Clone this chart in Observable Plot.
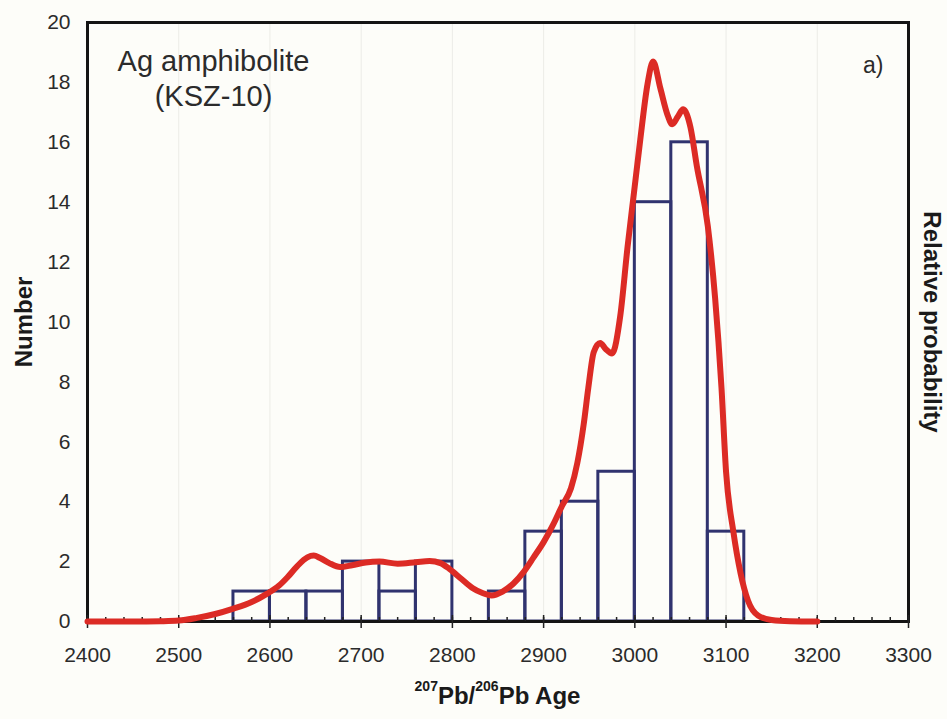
<!DOCTYPE html>
<html>
<head>
<meta charset="utf-8">
<script src="https://cdn.jsdelivr.net/npm/d3@7"></script>
<script src="https://cdn.jsdelivr.net/npm/@observablehq/plot@0.6"></script>
<style>
  html, body { margin: 0; padding: 0; background: #fdfdf9; }
  #chart svg { display: block; }
</style>
</head>
<body>
<div id="chart"></div>
<script>
// Zircon 207Pb/206Pb age histogram, 40 Ma bins
const binStart = [2560, 2600, 2640, 2680, 2720, 2760, 2800, 2840, 2880, 2920, 2960, 3000, 3040, 3080];
const binEnd   = [2600, 2640, 2680, 2720, 2760, 2800, 2840, 2880, 2920, 2960, 3000, 3040, 3080, 3120];
const binCount = [1, 1, 1, 2, 1, 2, 0, 1, 3, 4, 5, 14, 16, 3];

// Relative probability curve, expressed in units of the Number axis
const curveAge = [2400, 2450, 2480, 2500, 2520, 2540, 2560, 2580, 2597, 2610, 2619, 2630, 2641, 2648, 2655, 2665,
  2677, 2690, 2705, 2720, 2740, 2760, 2775, 2787, 2797, 2810, 2822, 2833, 2843, 2855, 2867, 2878,
  2889, 2900, 2911, 2920, 2930, 2937, 2944, 2949, 2955, 2962, 2968, 2975, 2984, 2992, 2999, 3006,
  3014, 3020, 3028, 3036, 3041, 3047, 3053, 3061, 3068, 3080, 3088, 3095, 3100, 3108, 3116, 3124,
  3135, 3150, 3170, 3200];
const curveProb = [0, 0, 0.01, 0.03, 0.12, 0.25, 0.43, 0.65, 0.93, 1.2, 1.47, 1.85, 2.14, 2.2, 2.12, 1.95,
  1.82, 1.88, 1.97, 2.0, 1.93, 1.98, 2.02, 1.95, 1.75, 1.42, 1.12, 0.95, 0.87, 1.0, 1.27, 1.65,
  2.14, 2.65, 3.27, 3.85, 4.45, 5.3, 6.6, 7.8, 9.0, 9.3, 9.1, 8.95, 10.2, 12.5, 14.3, 16.1,
  17.96, 18.7, 17.8, 16.9, 16.6, 16.85, 17.1, 16.5, 15.2, 13.2, 10.8, 7.8, 5.0, 3.0, 1.6, 0.7,
  0.2, 0.05, 0.01, 0];

// Axis ticks
const xTicks = [2400, 2500, 2600, 2700, 2800, 2900, 3000, 3100, 3200, 3300];
const xMinorTicks = d3.range(2400, 3301, 20);
const yTicks = [0, 2, 4, 6, 8, 10, 12, 14, 16, 18, 20];

const bins = binStart
  .map((s, i) => ({start: s, end: binEnd[i], count: binCount[i]}))
  .filter(d => d.count > 0);
const curve = curveAge.map((a, i) => ({age: a, prob: curveProb[i]}));

const font = "'Liberation Sans', Arial, Helvetica, sans-serif";
const ink = "#2b2b2b";

const plot = Plot.plot({
  width: 947,
  height: 719,
  marginLeft: 87,
  marginRight: 39,
  marginTop: 22,
  marginBottom: 98,
  style: {background: "#fdfdf9", fontFamily: font, color: ink, overflow: "visible"},
  x: {domain: [2400, 3300], label: null},
  y: {domain: [0, 20], label: null},
  marks: [
    Plot.gridX(xTicks, {stroke: "#ececE7", strokeOpacity: 1, strokeWidth: 1}),
    Plot.rectY(bins, {x1: "start", x2: "end", y: "count", fill: "none", stroke: "#30336f", strokeWidth: 3}),
    Plot.frame({stroke: "#141414", strokeWidth: 3}),
    Plot.axisX(xMinorTicks, {tickSize: -4, text: null, stroke: "#222", strokeWidth: 1.5}),
    Plot.axisX(xTicks, {tickSize: -6, text: null, stroke: "#222", strokeWidth: 1.5}),
    Plot.axisX(xTicks, {tickSize: 7, tickPadding: 19, fontSize: 21, fill: ink, stroke: "#222", strokeWidth: 1.5,
      tickFormat: d => String(d)}),
    Plot.axisY(yTicks, {tickSize: 0, tickPadding: 17, fontSize: 21, fill: ink}),
    Plot.line(curve, {x: "age", y: "prob", stroke: "#dc2b25", strokeWidth: 6, curve: "monotone-x"}),
    Plot.text(["Ag amphibolite\n(KSZ-10)"], {
      frameAnchor: "top-left", textAnchor: "middle", lineAnchor: "top",
      dx: 126, dy: 24, fontSize: 29, lineHeight: 1.2, fill: ink
    }),
    Plot.text(["a)"], {
      frameAnchor: "top-right", textAnchor: "end", lineAnchor: "top",
      dx: -25, dy: 34, fontSize: 23, fill: ink
    }),
    Plot.text(["Number"], {
      frameAnchor: "left", textAnchor: "middle", rotate: -90, dx: -63,
      fontSize: 24, fontWeight: "bold", fill: "#1a1a1a"
    }),
    Plot.text(["Relative probability"], {
      frameAnchor: "right", textAnchor: "middle", rotate: 90, dx: 23,
      fontSize: 24, fontWeight: "bold", fill: "#1a1a1a"
    })
  ]
});

// X-axis title with superscript isotope masses
const xs = plot.scale("x");
const ys = plot.scale("y");
const cx = (xs.apply(2400) + xs.apply(3300)) / 2;
const title = d3.select(plot).append("text")
  .attr("x", cx)
  .attr("y", ys.apply(0) + 83)
  .attr("text-anchor", "middle")
  .attr("font-family", font)
  .attr("font-weight", "bold")
  .attr("fill", "#1a1a1a");
title.append("tspan").attr("font-size", 14).attr("dy", -13).text("207");
title.append("tspan").attr("font-size", 24).attr("dy", 13).text("Pb/");
title.append("tspan").attr("font-size", 14).attr("dy", -13).text("206");
title.append("tspan").attr("font-size", 24).attr("dy", 13).text("Pb Age");

document.getElementById("chart").append(plot);
</script>
</body>
</html>
